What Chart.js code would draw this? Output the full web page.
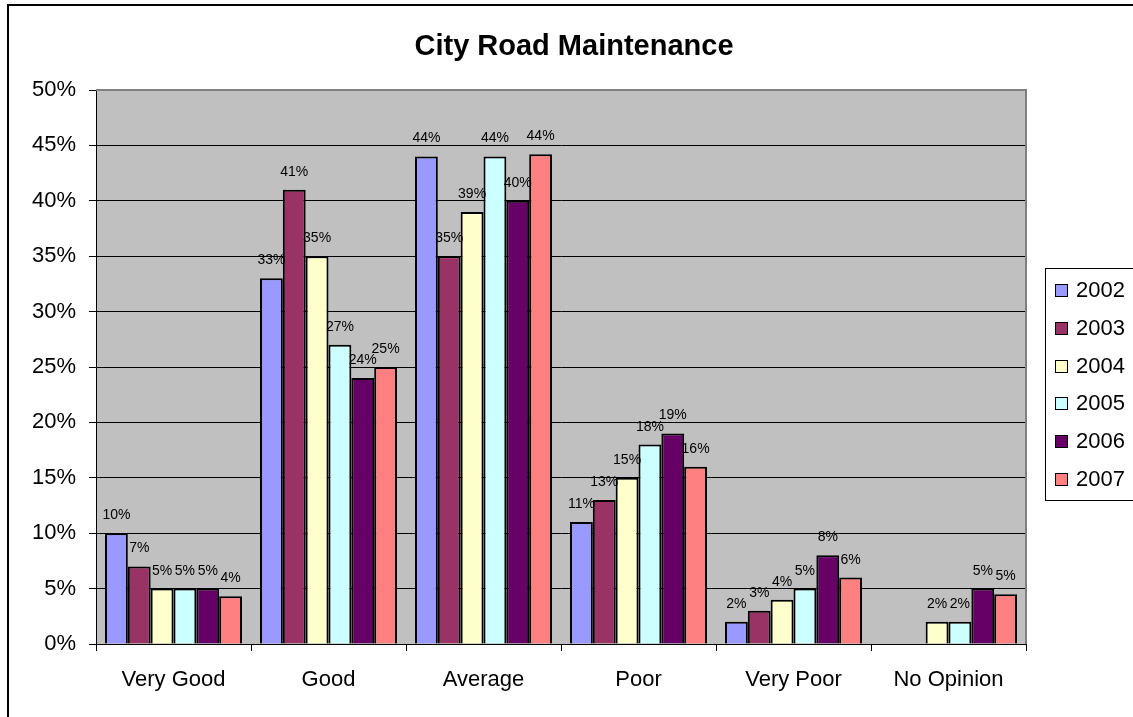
<!DOCTYPE html>
<html>
<head>
<meta charset="utf-8">
<script src="https://cdn.jsdelivr.net/npm/chart.js@4"></script>
<style>
  body { margin: 0; background: #fff; }
  canvas { display: block; }
</style>
</head>
<body>
<canvas id="canva" width="1133" height="717"></canvas>
<script>
const categories = ["Very Good", "Good", "Average", "Poor", "Very Poor", "No Opinion"];
const years = ["2002", "2003", "2004", "2005", "2006", "2007"];
const v2002 = [10, 33, 44, 11, 2, null];
const v2003 = [7, 41, 35, 13, 3, null];
const v2004 = [5, 35, 39, 15, 4, 2];
const v2005 = [5, 27, 44, 18, 5, 2];
const v2006 = [5, 24, 40, 19, 8, 5];
const v2007 = [4.3, 25, 44.2, 16, 6, 4.5];
const yTicks = [0, 5, 10, 15, 20, 25, 30, 35, 40, 45, 50];

const colors = ["#9999FF", "#993366", "#FFFFCC", "#CCFFFF", "#660066", "#FF8080"];
const series = [v2002, v2003, v2004, v2005, v2006, v2007];
const FONT = "'Liberation Sans', Arial, sans-serif";

const ctx = document.getElementById("canva");

// grey plot area, frame, title, legend box and value labels
const excelLook = {
  id: "excelLook",
  beforeDraw(chart) {
    const a = chart.chartArea;
    const c = chart.ctx;
    c.save();
    c.fillStyle = "#C0C0C0";
    c.fillRect(a.left, a.top, a.right - a.left, a.bottom - a.top);
    c.restore();
  },
  afterDatasetsDraw(chart) {
    const c = chart.ctx;
    c.save();
    c.font = "14px " + FONT;
    c.fillStyle = "#000";
    c.textAlign = "center";
    c.textBaseline = "alphabetic";
    chart.data.datasets.forEach((ds, i) => {
      const meta = chart.getDatasetMeta(i);
      meta.data.forEach((bar, j) => {
        const v = ds.data[j];
        if (v === null || v === undefined) return;
        c.fillText(Math.round(v) + "%", bar.x, bar.y - 14);
      });
    });
    c.restore();
  },
  afterDraw(chart) {
    const a = chart.chartArea;
    const c = chart.ctx;
    c.save();
    // plot frame (top + right)
    c.strokeStyle = "#808080";
    c.lineWidth = 2;
    c.beginPath();
    c.moveTo(a.left, a.top);
    c.lineTo(a.right, a.top);
    c.lineTo(a.right, a.bottom);
    c.stroke();
    // outer chart border
    c.strokeStyle = "#000";
    c.lineWidth = 2;
    c.beginPath();
    c.moveTo(8, 740);
    c.lineTo(8, 5);
    c.lineTo(1150, 5);
    c.stroke();
    // title
    c.fillStyle = "#000";
    c.font = "bold 29px " + FONT;
    c.textAlign = "center";
    c.textBaseline = "middle";
    c.fillText("City Road Maintenance", 574, 47);
    // legend
    c.lineWidth = 1;
    c.strokeStyle = "#000";
    c.strokeRect(1045.5, 268.5, 110, 232);
    c.font = "22px " + FONT;
    c.textAlign = "left";
    chart.data.datasets.forEach((ds, i) => {
      const y = 290 + i * 37.8;
      c.fillStyle = ds.backgroundColor;
      c.fillRect(1055, Math.round(y - 6), 12, 12);
      c.strokeRect(1055.5, Math.round(y - 6) + 0.5, 12, 12);
      c.fillStyle = "#000";
      c.fillText(ds.label, 1076, y + 1);
    });
    c.restore();
  }
};

new Chart(ctx, {
  type: "bar",
  data: {
    labels: categories,
    datasets: years.map((y, i) => ({
      label: y,
      data: series[i],
      backgroundColor: colors[i],
      borderColor: "#000",
      borderWidth: 2,
      categoryPercentage: 0.884,
      barPercentage: 1,
    })),
  },
  options: {
    responsive: false,
    animation: false,
    layout: {
      padding: { top: 90, right: 107, bottom: 0, left: 0 },
    },
    scales: {
      x: {
        afterFit: (s) => { s.height = 73; },
        grid: {
          offset: true,
          drawOnChartArea: false,
          color: "#000",
          tickLength: 7,
        },
        border: { color: "#000", width: 1 },
        ticks: {
          color: "#000",
          padding: 16,
          font: { family: FONT, size: 22 },
        },
      },
      y: {
        min: 0,
        max: 50,
        afterFit: (s) => { s.width = 96; },
        afterBuildTicks: (s) => { s.ticks = yTicks.map((v) => ({ value: v })); },
        grid: {
          color: "#000",
          tickLength: 7,
        },
        border: { color: "#000", width: 1 },
        ticks: {
          color: "#000",
          padding: 13,
          font: { family: FONT, size: 22 },
          callback: (v) => v + "%",
        },
      },
    },
    // no built-in title/legend, drawn by plugin
    plugins: {
      legend: { display: false },
      title: { display: false },
      tooltip: { enabled: false },
    },
  },
  plugins: [excelLook],
});
</script>
</body>
</html>
